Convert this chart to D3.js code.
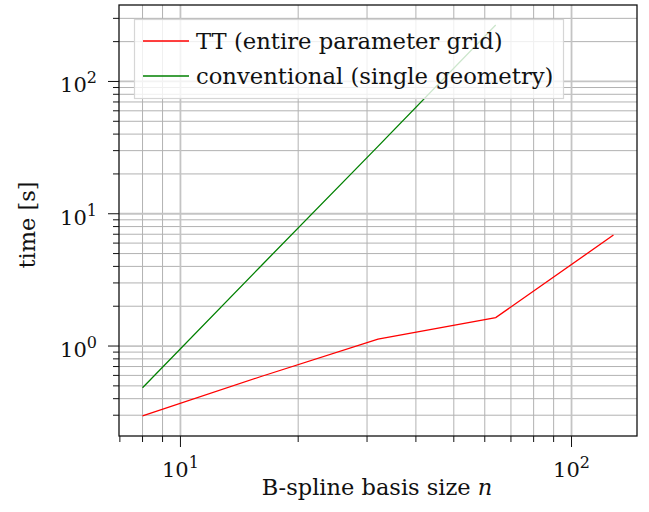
<!DOCTYPE html>
<html>
<head>
<meta charset="utf-8">
<script src="https://cdn.jsdelivr.net/npm/d3@7"></script>
<style>
  html, body { margin: 0; padding: 0; background: #fff; }
  svg { display: block; }
</style>
</head>
<body>
<svg id="chart" width="649" height="512"></svg>
<script>
// Basis sizes n and measured run times in seconds
const basisSizes = [8, 16, 32, 64, 128];
const ttTimes = [0.297, 0.586, 1.13, 1.64, 6.9];
const convSizes = [8, 16, 32, 64];
const convTimes = [0.484, 3.98, 32.3, 267];

const seriesNames = ["TT (entire parameter grid)", "conventional (single geometry)"];
const seriesColors = ["#ff0000", "#008000"];

const xMajorTicks = [10, 100];
const xMinorTicks = [7, 8, 9, 20, 30, 40, 50, 60, 70, 80, 90];
const yMajorTicks = [1, 10, 100];
const yMinorTicks = [0.3, 0.4, 0.5, 0.6, 0.7, 0.8, 0.9, 2, 3, 4, 5, 6, 7, 8, 9,
                     20, 30, 40, 50, 60, 70, 80, 90, 200, 300];
const xLabelExp = ["1", "2"];
const yLabelExp = ["0", "1", "2"];

const FONT = "DejaVu Serif";

const svg = d3.select("#chart");
const plot = { left: 119, right: 637, top: 5, bottom: 436 };

// log axes padded by 5% of the data range on each side
const xLo = Math.log10(8), xHi = Math.log10(128), xPad = 0.05 * (xHi - xLo);
const x = d3.scaleLog()
  .domain([Math.pow(10, xLo - xPad), Math.pow(10, xHi + xPad)])
  .range([plot.left, plot.right]);
const y = d3.scaleLog()
  .domain([Math.pow(10, -0.680), Math.pow(10, 2.578)])
  .range([plot.bottom, plot.top]);

const g = svg.append("g").attr("font-family", FONT).attr("fill", "#111");

// grid
const grid = g.append("g");
grid.selectAll(".gxm").data(xMinorTicks.filter(v => v > x.domain()[0] * 1.01)).join("line")
  .attr("x1", d => x(d)).attr("x2", d => x(d))
  .attr("y1", plot.top).attr("y2", plot.bottom)
  .attr("stroke", "#b2b2b2").attr("stroke-width", 1);
grid.selectAll(".gym").data(yMinorTicks).join("line")
  .attr("y1", d => y(d)).attr("y2", d => y(d))
  .attr("x1", plot.left).attr("x2", plot.right)
  .attr("stroke", "#b2b2b2").attr("stroke-width", 1);
grid.selectAll(".gxM").data(xMajorTicks).join("line")
  .attr("x1", d => x(d)).attr("x2", d => x(d))
  .attr("y1", plot.top).attr("y2", plot.bottom)
  .attr("stroke", "#c4c4c4").attr("stroke-width", 1.8);
grid.selectAll(".gyM").data(yMajorTicks).join("line")
  .attr("y1", d => y(d)).attr("y2", d => y(d))
  .attr("x1", plot.left).attr("x2", plot.right)
  .attr("stroke", "#c4c4c4").attr("stroke-width", 1.8);

// series
const line = d3.line().x(d => x(d[0])).y(d => y(d[1]));
g.append("path")
  .datum(convSizes.map((n, i) => [n, convTimes[i]]))
  .attr("d", line).attr("fill", "none")
  .attr("stroke", seriesColors[1]).attr("stroke-width", 1.3);
g.append("path")
  .datum(basisSizes.map((n, i) => [n, ttTimes[i]]))
  .attr("d", line).attr("fill", "none")
  .attr("stroke", seriesColors[0]).attr("stroke-width", 1.3);

// ticks (outside the frame)
const ticks = g.append("g").attr("stroke", "#111").attr("stroke-width", 1);
ticks.selectAll(".txM").data(xMajorTicks).join("line")
  .attr("x1", d => x(d)).attr("x2", d => x(d))
  .attr("y1", plot.bottom).attr("y2", plot.bottom + 11);
ticks.selectAll(".txm").data(xMinorTicks).join("line")
  .attr("x1", d => x(d)).attr("x2", d => x(d))
  .attr("y1", plot.bottom).attr("y2", plot.bottom + 6);
ticks.selectAll(".tyM").data(yMajorTicks).join("line")
  .attr("y1", d => y(d)).attr("y2", d => y(d))
  .attr("x1", plot.left).attr("x2", plot.left - 11);
ticks.selectAll(".tym").data(yMinorTicks).join("line")
  .attr("y1", d => y(d)).attr("y2", d => y(d))
  .attr("x1", plot.left).attr("x2", plot.left - 6);

// frame
g.append("rect")
  .attr("x", plot.left).attr("y", plot.top)
  .attr("width", plot.right - plot.left).attr("height", plot.bottom - plot.top)
  .attr("fill", "none").attr("stroke", "#111").attr("stroke-width", 1.3);

// tick labels as 10^k
function powLabel(sel, exps) {
  sel.append("tspan").text("10");
  sel.append("tspan").attr("dy", -9).attr("font-size", 16).text((d, i) => exps[i]);
}
g.selectAll(".xl").data(xMajorTicks).join("text")
  .attr("x", d => x(d)).attr("y", 477)
  .attr("text-anchor", "middle").attr("font-size", 21)
  .call(powLabel, xLabelExp);
g.selectAll(".yl").data(yMajorTicks).join("text")
  .attr("x", 97).attr("y", d => y(d) + 11)
  .attr("text-anchor", "end").attr("font-size", 21)
  .call(powLabel, yLabelExp);

// axis titles
const xt = g.append("text")
  .attr("x", 377).attr("y", 495)
  .attr("text-anchor", "middle").attr("font-size", 22.5);
xt.append("tspan").text("B-spline basis size ");
xt.append("tspan").attr("font-style", "italic").text("n");

g.append("text")
  .attr("transform", "translate(35,225) rotate(-90)")
  .attr("text-anchor", "middle").attr("font-size", 22.5)
  .text("time [s]");

// legend
const lg = g.append("g");
lg.append("rect")
  .attr("x", 134.5).attr("y", 19.5).attr("width", 429).attr("height", 79)
  .attr("fill", "#fff").attr("fill-opacity", 0.8)
  .attr("stroke", "#d6d6d6").attr("stroke-width", 1.2);
const rows = [41, 76];
seriesNames.forEach((name, i) => {
  lg.append("line")
    .attr("x1", 143).attr("x2", 189)
    .attr("y1", rows[i]).attr("y2", rows[i])
    .attr("stroke", seriesColors[i]).attr("stroke-width", 1.3);
  lg.append("text")
    .attr("x", 196).attr("y", rows[i] + 7.5)
    .attr("font-size", 22.7)
    .text(name);
});
</script>
</body>
</html>
